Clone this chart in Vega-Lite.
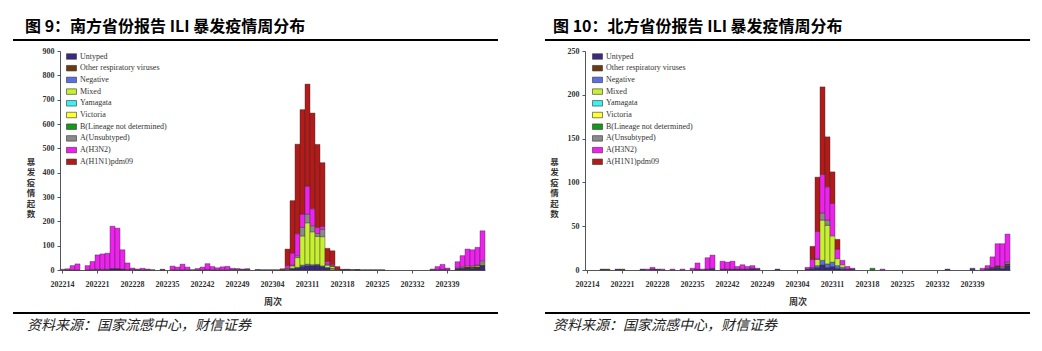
{
  "$schema": "https://vega.github.io/schema/vega-lite/v6.json",
  "padding": {"left": 13, "top": 19, "right": 0, "bottom": 0},
  "background": "#ffffff",
  "config": {
    "view": {"stroke": null},
    "font": "Liberation Serif",
    "axis": {"grid": false, "domainColor": "#555", "tickColor": "#555", "labelColor": "#333", "titleColor": "#333"}
  },
  "datasets": {
    "south": [
      {"week":"202214","type":"A(H3N2)","count":3},
      {"week":"202215","type":"Untyped","count":1},{"week":"202215","type":"A(H3N2)","count":4},
      {"week":"202216","type":"Untyped","count":1},{"week":"202216","type":"A(H3N2)","count":17},
      {"week":"202217","type":"Untyped","count":1},{"week":"202217","type":"A(H3N2)","count":24},
      {"week":"202219","type":"Untyped","count":1},{"week":"202219","type":"A(H3N2)","count":17},
      {"week":"202220","type":"Untyped","count":2},{"week":"202220","type":"A(H3N2)","count":33},
      {"week":"202221","type":"Untyped","count":3},{"week":"202221","type":"A(H3N2)","count":59},
      {"week":"202222","type":"Untyped","count":3},{"week":"202222","type":"A(H3N2)","count":63},
      {"week":"202223","type":"Untyped","count":3},{"week":"202223","type":"A(H3N2)","count":66},
      {"week":"202224","type":"Untyped","count":4},{"week":"202224","type":"Other respiratory viruses","count":2},{"week":"202224","type":"A(H3N2)","count":174},
      {"week":"202225","type":"Untyped","count":4},{"week":"202225","type":"Other respiratory viruses","count":2},{"week":"202225","type":"A(H3N2)","count":166},
      {"week":"202226","type":"Untyped","count":3},{"week":"202226","type":"Other respiratory viruses","count":1},{"week":"202226","type":"A(H3N2)","count":79},
      {"week":"202227","type":"Untyped","count":2},{"week":"202227","type":"A(H3N2)","count":27},
      {"week":"202228","type":"Untyped","count":2},{"week":"202228","type":"A(H3N2)","count":6},
      {"week":"202229","type":"Untyped","count":1},{"week":"202229","type":"A(H3N2)","count":3},
      {"week":"202230","type":"Untyped","count":1},{"week":"202230","type":"A(H3N2)","count":6},
      {"week":"202231","type":"Untyped","count":1},{"week":"202231","type":"A(H3N2)","count":3},
      {"week":"202232","type":"Untyped","count":1},
      {"week":"202234","type":"Untyped","count":1},{"week":"202234","type":"A(H3N2)","count":2},
      {"week":"202236","type":"Untyped","count":1},{"week":"202236","type":"A(H3N2)","count":15},
      {"week":"202237","type":"Untyped","count":1},{"week":"202237","type":"A(H3N2)","count":11},
      {"week":"202238","type":"Untyped","count":1},{"week":"202238","type":"A(H3N2)","count":23},
      {"week":"202239","type":"Untyped","count":1},{"week":"202239","type":"A(H3N2)","count":11},
      {"week":"202240","type":"Untyped","count":1},
      {"week":"202241","type":"Untyped","count":1},{"week":"202241","type":"A(H3N2)","count":5},
      {"week":"202242","type":"Untyped","count":1},{"week":"202242","type":"A(H3N2)","count":11},
      {"week":"202243","type":"Untyped","count":2},{"week":"202243","type":"A(H3N2)","count":24},
      {"week":"202244","type":"Untyped","count":1},{"week":"202244","type":"A(H3N2)","count":13},
      {"week":"202245","type":"Untyped","count":1},{"week":"202245","type":"A(H3N2)","count":8},
      {"week":"202246","type":"Untyped","count":1},{"week":"202246","type":"A(H3N2)","count":12},
      {"week":"202247","type":"Untyped","count":1},{"week":"202247","type":"A(H3N2)","count":14},
      {"week":"202248","type":"Untyped","count":2},{"week":"202248","type":"A(H3N2)","count":5},
      {"week":"202249","type":"Untyped","count":2},{"week":"202249","type":"A(H3N2)","count":4},
      {"week":"202250","type":"Untyped","count":2},{"week":"202250","type":"A(H3N2)","count":2},
      {"week":"202251","type":"Untyped","count":3},{"week":"202251","type":"A(H3N2)","count":2},
      {"week":"202301","type":"Untyped","count":2},
      {"week":"202302","type":"Untyped","count":1},
      {"week":"202303","type":"Untyped","count":1},
      {"week":"202304","type":"Untyped","count":1},
      {"week":"202305","type":"Untyped","count":1},
      {"week":"202306","type":"Untyped","count":1},{"week":"202306","type":"A(H1N1)pdm09","count":4},
      {"week":"202307","type":"Untyped","count":2},{"week":"202307","type":"Mixed","count":3},{"week":"202307","type":"A(Unsubtyped)","count":1},{"week":"202307","type":"A(H3N2)","count":12},{"week":"202307","type":"A(H1N1)pdm09","count":68},
      {"week":"202308","type":"Untyped","count":5},{"week":"202308","type":"Negative","count":2},{"week":"202308","type":"Mixed","count":10},{"week":"202308","type":"A(Unsubtyped)","count":3},{"week":"202308","type":"A(H3N2)","count":50},{"week":"202308","type":"A(H1N1)pdm09","count":215},
      {"week":"202309","type":"Untyped","count":8},{"week":"202309","type":"Negative","count":3},{"week":"202309","type":"Mixed","count":40},{"week":"202309","type":"A(Unsubtyped)","count":8},{"week":"202309","type":"A(H3N2)","count":90},{"week":"202309","type":"A(H1N1)pdm09","count":368},
      {"week":"202310","type":"Untyped","count":15},{"week":"202310","type":"Negative","count":5},{"week":"202310","type":"Mixed","count":120},{"week":"202310","type":"A(Unsubtyped)","count":35},{"week":"202310","type":"A(H3N2)","count":55},{"week":"202310","type":"A(H1N1)pdm09","count":429},
      {"week":"202311","type":"Untyped","count":18},{"week":"202311","type":"Negative","count":6},{"week":"202311","type":"Mixed","count":170},{"week":"202311","type":"A(Unsubtyped)","count":35},{"week":"202311","type":"A(H3N2)","count":115},{"week":"202311","type":"A(H1N1)pdm09","count":420},
      {"week":"202312","type":"Untyped","count":18},{"week":"202312","type":"Negative","count":4},{"week":"202312","type":"Mixed","count":135},{"week":"202312","type":"A(Unsubtyped)","count":25},{"week":"202312","type":"A(H3N2)","count":70},{"week":"202312","type":"A(H1N1)pdm09","count":393},
      {"week":"202313","type":"Untyped","count":20},{"week":"202313","type":"Negative","count":3},{"week":"202313","type":"Mixed","count":115},{"week":"202313","type":"A(Unsubtyped)","count":12},{"week":"202313","type":"A(H3N2)","count":25},{"week":"202313","type":"A(H1N1)pdm09","count":341},
      {"week":"202314","type":"Untyped","count":14},{"week":"202314","type":"Negative","count":3},{"week":"202314","type":"Mixed","count":120},{"week":"202314","type":"A(Unsubtyped)","count":30},{"week":"202314","type":"A(H3N2)","count":12},{"week":"202314","type":"A(H1N1)pdm09","count":262},
      {"week":"202315","type":"Untyped","count":8},{"week":"202315","type":"Negative","count":2},{"week":"202315","type":"Mixed","count":10},{"week":"202315","type":"A(Unsubtyped)","count":5},{"week":"202315","type":"A(H3N2)","count":10},{"week":"202315","type":"A(H1N1)pdm09","count":54},
      {"week":"202316","type":"Untyped","count":3},{"week":"202316","type":"Mixed","count":8},{"week":"202316","type":"Victoria","count":3},{"week":"202316","type":"A(Unsubtyped)","count":3},{"week":"202316","type":"A(H3N2)","count":5},{"week":"202316","type":"A(H1N1)pdm09","count":57},
      {"week":"202317","type":"Untyped","count":2},{"week":"202317","type":"A(H1N1)pdm09","count":12},
      {"week":"202318","type":"Untyped","count":1},{"week":"202318","type":"A(H1N1)pdm09","count":2},
      {"week":"202319","type":"Untyped","count":2},{"week":"202319","type":"Other respiratory viruses","count":1},
      {"week":"202320","type":"Untyped","count":2},
      {"week":"202321","type":"Untyped","count":1},{"week":"202321","type":"Other respiratory viruses","count":1},
      {"week":"202322","type":"Untyped","count":1},
      {"week":"202323","type":"Untyped","count":1},
      {"week":"202324","type":"Untyped","count":1},
      {"week":"202325","type":"Untyped","count":1},
      {"week":"202326","type":"Untyped","count":1},
      {"week":"202336","type":"Untyped","count":1},{"week":"202336","type":"A(H3N2)","count":3},
      {"week":"202337","type":"Untyped","count":2},{"week":"202337","type":"A(H3N2)","count":12},
      {"week":"202338","type":"Untyped","count":3},{"week":"202338","type":"A(H3N2)","count":20},
      {"week":"202339","type":"Untyped","count":2},{"week":"202339","type":"A(H3N2)","count":6},
      {"week":"202341","type":"Untyped","count":4},{"week":"202341","type":"Other respiratory viruses","count":3},{"week":"202341","type":"Mixed","count":2},{"week":"202341","type":"A(H3N2)","count":25},
      {"week":"202342","type":"Untyped","count":6},{"week":"202342","type":"Other respiratory viruses","count":4},{"week":"202342","type":"Mixed","count":3},{"week":"202342","type":"A(H3N2)","count":46},
      {"week":"202343","type":"Untyped","count":8},{"week":"202343","type":"Other respiratory viruses","count":5},{"week":"202343","type":"Mixed","count":4},{"week":"202343","type":"A(H3N2)","count":69},
      {"week":"202344","type":"Untyped","count":7},{"week":"202344","type":"Other respiratory viruses","count":5},{"week":"202344","type":"Mixed","count":4},{"week":"202344","type":"A(H3N2)","count":67},
      {"week":"202345","type":"Untyped","count":8},{"week":"202345","type":"Other respiratory viruses","count":5},{"week":"202345","type":"Mixed","count":5},{"week":"202345","type":"A(Unsubtyped)","count":3},{"week":"202345","type":"A(H3N2)","count":72},
      {"week":"202346","type":"Untyped","count":18},{"week":"202346","type":"Other respiratory viruses","count":4},{"week":"202346","type":"Mixed","count":6},{"week":"202346","type":"A(Unsubtyped)","count":10},{"week":"202346","type":"A(H3N2)","count":123}
    ],
    "north": [
      {"week":"202217","type":"Untyped","count":1},
      {"week":"202218","type":"Other respiratory viruses","count":1},
      {"week":"202220","type":"Untyped","count":1},
      {"week":"202221","type":"Other respiratory viruses","count":1},
      {"week":"202225","type":"Untyped","count":1},
      {"week":"202226","type":"A(H3N2)","count":1},
      {"week":"202227","type":"Untyped","count":1},{"week":"202227","type":"A(H3N2)","count":2},
      {"week":"202228","type":"Untyped","count":1},
      {"week":"202229","type":"A(H3N2)","count":1},
      {"week":"202231","type":"A(H3N2)","count":1},
      {"week":"202233","type":"A(H3N2)","count":1},
      {"week":"202235","type":"A(H3N2)","count":2},
      {"week":"202236","type":"Untyped","count":1},{"week":"202236","type":"A(H3N2)","count":7},
      {"week":"202237","type":"A(H3N2)","count":1},
      {"week":"202238","type":"Untyped","count":1},{"week":"202238","type":"A(H3N2)","count":13},
      {"week":"202239","type":"Untyped","count":2},{"week":"202239","type":"A(H3N2)","count":15},
      {"week":"202241","type":"Untyped","count":1},{"week":"202241","type":"A(H3N2)","count":9},
      {"week":"202242","type":"Untyped","count":1},{"week":"202242","type":"A(H3N2)","count":8},
      {"week":"202243","type":"Untyped","count":1},{"week":"202243","type":"A(H3N2)","count":9},
      {"week":"202244","type":"Untyped","count":1},{"week":"202244","type":"A(H3N2)","count":3},
      {"week":"202245","type":"Untyped","count":1},{"week":"202245","type":"A(H3N2)","count":5},
      {"week":"202246","type":"Untyped","count":1},{"week":"202246","type":"A(H3N2)","count":3},
      {"week":"202247","type":"Untyped","count":2},{"week":"202247","type":"A(H3N2)","count":3},
      {"week":"202248","type":"Untyped","count":1},{"week":"202248","type":"A(H3N2)","count":1},
      {"week":"202252","type":"Untyped","count":1},
      {"week":"202306","type":"Untyped","count":1},{"week":"202306","type":"A(H3N2)","count":2},
      {"week":"202307","type":"Untyped","count":2},{"week":"202307","type":"Negative","count":1},{"week":"202307","type":"A(H3N2)","count":9},{"week":"202307","type":"A(H1N1)pdm09","count":15},
      {"week":"202308","type":"Untyped","count":3},{"week":"202308","type":"Negative","count":2},{"week":"202308","type":"Mixed","count":7},{"week":"202308","type":"A(Unsubtyped)","count":1},{"week":"202308","type":"A(H3N2)","count":31},{"week":"202308","type":"A(H1N1)pdm09","count":62},
      {"week":"202309","type":"Untyped","count":6},{"week":"202309","type":"Negative","count":5},{"week":"202309","type":"Mixed","count":46},{"week":"202309","type":"A(Unsubtyped)","count":8},{"week":"202309","type":"A(H3N2)","count":44},{"week":"202309","type":"A(H1N1)pdm09","count":100},
      {"week":"202310","type":"Untyped","count":3},{"week":"202310","type":"Negative","count":4},{"week":"202310","type":"Mixed","count":44},{"week":"202310","type":"A(Unsubtyped)","count":6},{"week":"202310","type":"A(H3N2)","count":38},{"week":"202310","type":"A(H1N1)pdm09","count":57},
      {"week":"202311","type":"Untyped","count":4},{"week":"202311","type":"Negative","count":5},{"week":"202311","type":"Mixed","count":30},{"week":"202311","type":"A(H3N2)","count":37},{"week":"202311","type":"A(H1N1)pdm09","count":36},
      {"week":"202312","type":"Untyped","count":2},{"week":"202312","type":"Negative","count":3},{"week":"202312","type":"Mixed","count":8},{"week":"202312","type":"A(H3N2)","count":11},{"week":"202312","type":"A(H1N1)pdm09","count":11},
      {"week":"202313","type":"Untyped","count":1},{"week":"202313","type":"Negative","count":2},{"week":"202313","type":"Mixed","count":3},{"week":"202313","type":"A(H3N2)","count":5},
      {"week":"202314","type":"Untyped","count":1},{"week":"202314","type":"A(H3N2)","count":3},
      {"week":"202315","type":"Untyped","count":1},{"week":"202315","type":"A(H3N2)","count":1},
      {"week":"202319","type":"B(Lineage not determined)","count":2},
      {"week":"202321","type":"A(H3N2)","count":1},
      {"week":"202334","type":"Untyped","count":1},
      {"week":"202339","type":"Untyped","count":1},{"week":"202339","type":"Negative","count":1},
      {"week":"202341","type":"A(H3N2)","count":2},
      {"week":"202342","type":"Untyped","count":1},{"week":"202342","type":"Negative","count":1},{"week":"202342","type":"A(H3N2)","count":3},
      {"week":"202343","type":"Untyped","count":2},{"week":"202343","type":"Other respiratory viruses","count":1},{"week":"202343","type":"A(H3N2)","count":12},
      {"week":"202344","type":"Untyped","count":3},{"week":"202344","type":"Other respiratory viruses","count":2},{"week":"202344","type":"A(H3N2)","count":25},
      {"week":"202345","type":"Untyped","count":2},{"week":"202345","type":"Negative","count":1},{"week":"202345","type":"Mixed","count":1},{"week":"202345","type":"A(H3N2)","count":26},
      {"week":"202346","type":"Untyped","count":5},{"week":"202346","type":"Other respiratory viruses","count":2},{"week":"202346","type":"A(Unsubtyped)","count":2},{"week":"202346","type":"A(H3N2)","count":32}
    ]
  },
  "hconcat": [
    {
      "spacing": 6,
      "resolve": {"scale": {"x": "independent", "y": "independent", "color": "independent"}, "legend": {"color": "independent"}},
      "vconcat": [
        {
          "width": 485, "height": 2,
          "data": {"values": []},
          "mark": {"type": "text"},
          "encoding": {},
          "view": {"fill": "#000000", "stroke": null},
          "title": {"text": "图 9：南方省份报告 ILI 暴发疫情周分布", "anchor": "start", "frame": "group", "dx": 12, "offset": 4, "font": "Noto Sans CJK SC", "fontSize": 16, "fontWeight": "bold", "color": "#000000"}
        },
        {
          "width": 472, "height": 219,
          "data": {"name": "south"},
          "mark": {"type": "bar", "stroke": "#2a2a2a", "strokeWidth": 0.4},
          "encoding": {
            "x": {"field": "week", "type": "ordinal",
              "scale": {"domain": ["202214","202215","202216","202217","202218","202219","202220","202221","202222","202223","202224","202225","202226","202227","202228","202229","202230","202231","202232","202233","202234","202235","202236","202237","202238","202239","202240","202241","202242","202243","202244","202245","202246","202247","202248","202249","202250","202251","202252","202301","202302","202303","202304","202305","202306","202307","202308","202309","202310","202311","202312","202313","202314","202315","202316","202317","202318","202319","202320","202321","202322","202323","202324","202325","202326","202327","202328","202329","202330","202331","202332","202333","202334","202335","202336","202337","202338","202339","202340","202341","202342","202343","202344","202345","202346"], "range": [47, 472], "paddingInner": 0, "paddingOuter": 0},
              "axis": {"values": ["202214","202221","202228","202235","202242","202249","202304","202311","202318","202325","202332","202339"], "labelAngle": 0, "labelFont": "Liberation Serif", "labelFontSize": 8, "labelFontWeight": "bold", "tickSize": 3, "labelPadding": 7, "labelOverlap": false, "title": "周次", "titleFont": "Noto Sans CJK SC", "titleFontSize": 9, "titleFontWeight": "bold", "titlePadding": 9, "titleX": 259.5}
            },
            "y": {"field": "count", "type": "quantitative", "stack": "zero",
              "scale": {"domain": [0, 900], "nice": false},
              "axis": {"offset": -47, "values": [0,100,200,300,400,500,600,700,800,900], "labelFont": "Liberation Serif", "labelFontSize": 8, "labelFontWeight": "bold", "tickSize": 3, "labelPadding": 3, "title": ["暴","发","疫","情","起","数"], "titleAngle": 0, "titleAlign": "center", "titleBaseline": "middle", "titleX": -29.5, "titleY": 110, "titleFont": "Noto Sans CJK SC", "titleFontSize": 8.5, "titleFontWeight": "bold", "titleLineHeight": 10.5}
            },
            "color": {"field": "type", "type": "nominal",
              "scale": {"domain": ["Untyped","Other respiratory viruses","Negative","Mixed","Yamagata","Victoria","B(Lineage not determined)","A(Unsubtyped)","A(H3N2)","A(H1N1)pdm09"],
                        "range": ["#3b2a80","#6b3a0f","#5a6fe0","#c8f032","#3ef0f0","#ffff33","#139a1a","#8a8a8a","#ee22ee","#b31b1b"]},
              "legend": {"orient": "none", "legendX": 53, "legendY": 0, "title": null, "labelFont": "Liberation Serif", "labelFontSize": 8, "labelColor": "#333333", "symbolType": "M-1,-0.55H1V0.55H-1Z", "symbolSize": 100, "symbolStrokeColor": "#333333", "symbolStrokeWidth": 0.6, "rowPadding": 1.7, "labelOffset": 3, "labelLimit": 300}
            },
            "order": {"field": "type", "sort": "descending"}
          }
        },
        {
          "width": 485, "height": 2,
          "data": {"values": []},
          "mark": {"type": "text"},
          "encoding": {},
          "view": {"fill": "#000000", "stroke": null},
          "title": {"text": "资料来源：国家流感中心，财信证券", "orient": "bottom", "anchor": "start", "frame": "group", "dx": 14, "offset": 5, "font": "Noto Sans CJK SC", "fontSize": 14, "fontStyle": "italic", "fontWeight": "normal", "color": "#222222"}
        }
      ]
    },
    {
      "spacing": 6,
      "resolve": {"scale": {"x": "independent", "y": "independent", "color": "independent"}, "legend": {"color": "independent"}},
      "vconcat": [
        {
          "width": 485, "height": 2,
          "data": {"values": []},
          "mark": {"type": "text"},
          "encoding": {},
          "view": {"fill": "#000000", "stroke": null},
          "title": {"text": "图 10：北方省份报告 ILI 暴发疫情周分布", "anchor": "start", "frame": "group", "dx": 8, "offset": 4, "font": "Noto Sans CJK SC", "fontSize": 16, "fontWeight": "bold", "color": "#000000"}
        },
        {
          "width": 465, "height": 219,
          "data": {"name": "north"},
          "mark": {"type": "bar", "stroke": "#2a2a2a", "strokeWidth": 0.4},
          "encoding": {
            "x": {"field": "week", "type": "ordinal",
              "scale": {"domain": ["202214","202215","202216","202217","202218","202219","202220","202221","202222","202223","202224","202225","202226","202227","202228","202229","202230","202231","202232","202233","202234","202235","202236","202237","202238","202239","202240","202241","202242","202243","202244","202245","202246","202247","202248","202249","202250","202251","202252","202301","202302","202303","202304","202305","202306","202307","202308","202309","202310","202311","202312","202313","202314","202315","202316","202317","202318","202319","202320","202321","202322","202323","202324","202325","202326","202327","202328","202329","202330","202331","202332","202333","202334","202335","202336","202337","202338","202339","202340","202341","202342","202343","202344","202345","202346"], "range": [40, 465], "paddingInner": 0, "paddingOuter": 0},
              "axis": {"values": ["202214","202221","202228","202235","202242","202249","202304","202311","202318","202325","202332","202339"], "labelAngle": 0, "labelFont": "Liberation Serif", "labelFontSize": 8, "labelFontWeight": "bold", "tickSize": 3, "labelPadding": 7, "labelOverlap": false, "title": "周次", "titleFont": "Noto Sans CJK SC", "titleFontSize": 9, "titleFontWeight": "bold", "titlePadding": 9, "titleX": 252.5}
            },
            "y": {"field": "count", "type": "quantitative", "stack": "zero",
              "scale": {"domain": [0, 250], "nice": false},
              "axis": {"offset": -40, "values": [0,50,100,150,200,250], "labelFont": "Liberation Serif", "labelFontSize": 8, "labelFontWeight": "bold", "tickSize": 3, "labelPadding": 3, "title": ["暴","发","疫","情","起","数"], "titleAngle": 0, "titleAlign": "center", "titleBaseline": "middle", "titleX": -31, "titleY": 110, "titleFont": "Noto Sans CJK SC", "titleFontSize": 8.5, "titleFontWeight": "bold", "titleLineHeight": 10.5}
            },
            "color": {"field": "type", "type": "nominal",
              "scale": {"domain": ["Untyped","Other respiratory viruses","Negative","Mixed","Yamagata","Victoria","B(Lineage not determined)","A(Unsubtyped)","A(H3N2)","A(H1N1)pdm09"],
                        "range": ["#3b2a80","#6b3a0f","#5a6fe0","#c8f032","#3ef0f0","#ffff33","#139a1a","#8a8a8a","#ee22ee","#b31b1b"]},
              "legend": {"orient": "none", "legendX": 47, "legendY": 0, "title": null, "labelFont": "Liberation Serif", "labelFontSize": 8, "labelColor": "#333333", "symbolType": "M-1,-0.55H1V0.55H-1Z", "symbolSize": 100, "symbolStrokeColor": "#333333", "symbolStrokeWidth": 0.6, "rowPadding": 1.7, "labelOffset": 3, "labelLimit": 300}
            },
            "order": {"field": "type", "sort": "descending"}
          }
        },
        {
          "width": 485, "height": 2,
          "data": {"values": []},
          "mark": {"type": "text"},
          "encoding": {},
          "view": {"fill": "#000000", "stroke": null},
          "title": {"text": "资料来源：国家流感中心，财信证券", "orient": "bottom", "anchor": "start", "frame": "group", "dx": 8, "offset": 5, "font": "Noto Sans CJK SC", "fontSize": 14, "fontStyle": "italic", "fontWeight": "normal", "color": "#222222"}
        }
      ]
    }
  ],
  "spacing": 47,
  "resolve": {"scale": {"x": "independent", "y": "independent", "color": "independent"}, "legend": {"color": "independent"}}
}
